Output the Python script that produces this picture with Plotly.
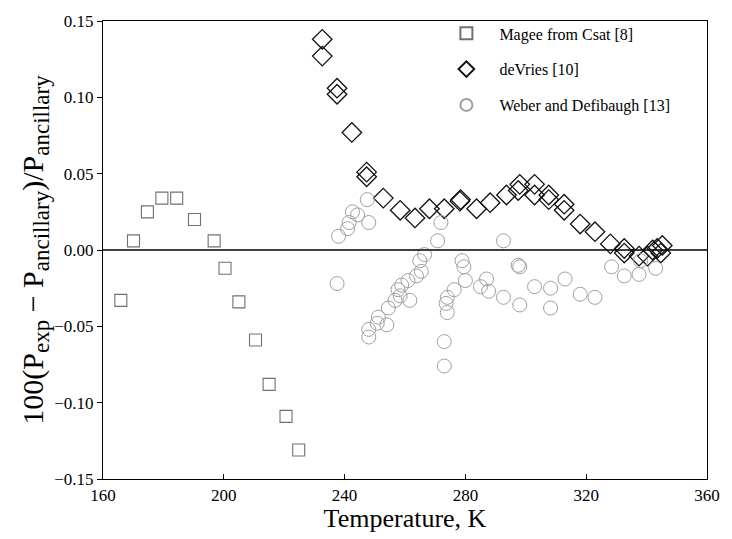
import plotly.graph_objects as go

# Magee from Csat [8]
magee_T = [165.9, 170.1, 174.7, 179.5, 184.4, 190.3, 196.8, 200.4, 205.0, 210.5, 215.0, 220.6, 224.8]
magee_y = [-0.033, 0.006, 0.025, 0.034, 0.034, 0.020, 0.006, -0.012, -0.034, -0.059, -0.088, -0.109, -0.131]

# deVries [10]
devries_T = [232.6, 232.6, 237.5, 237.5, 242.4, 247.3, 247.3, 252.8, 258.4, 263.3, 268.1, 273.0,
             278.2, 278.4, 283.7, 288.2, 293.6, 298.0, 297.5, 302.9, 302.9, 307.6, 307.6, 312.7,
             312.7, 318.0, 322.9, 328.0, 332.6, 332.6, 337.5, 340.3, 342.0, 343.5, 345.2, 344.7]
devries_y = [0.138, 0.127, 0.106, 0.102, 0.077, 0.051, 0.048, 0.034, 0.026, 0.021, 0.027, 0.027,
             0.032, 0.033, 0.027, 0.031, 0.036, 0.043, 0.039, 0.043, 0.036, 0.036, 0.033, 0.030,
             0.026, 0.017, 0.012, 0.004, 0.001, -0.002, -0.004, -0.004, 0.000, 0.001, 0.003, -0.002]

# Weber and Defibaugh [13]
weber_T = [237.5, 238.0, 241.0, 241.5, 242.6, 244.3, 247.5, 248.0, 248.0, 248.0, 250.8, 251.2,
           254.0, 254.5, 256.7, 257.7, 258.4, 258.9, 261.0, 261.6, 263.8, 264.9, 265.4, 266.5,
           270.8, 271.9, 273.0, 273.0, 274.0, 273.6, 274.0, 276.3, 278.9, 279.5, 280.0, 285.0,
           287.0, 287.7, 292.6, 292.6, 297.5, 298.0, 298.0, 302.9, 308.2, 308.2, 313.0, 318.0,
           322.9, 328.4, 332.6, 337.5, 338.0, 343.0]
weber_y = [-0.022, 0.009, 0.014, 0.018, 0.025, 0.023, 0.033, 0.018, -0.052, -0.057, -0.048, -0.044,
           -0.049, -0.038, -0.033, -0.026, -0.030, -0.023, -0.020, -0.033, -0.017, -0.007, -0.014, -0.003,
           0.006, 0.018, -0.060, -0.076, -0.041, -0.035, -0.031, -0.026, -0.007, -0.011, -0.020, -0.024,
           -0.019, -0.027, -0.031, 0.006, -0.010, -0.036, -0.011, -0.024, -0.025, -0.038, -0.019, -0.029,
           -0.031, -0.011, -0.017, -0.016, -0.007, -0.012]

x_ticks = [160, 200, 240, 280, 320, 360]
y_ticks = [-0.15, -0.10, -0.05, 0.00, 0.05, 0.10, 0.15]

serif = "Liberation Serif, Times New Roman, serif"

fig = go.Figure()
fig.add_trace(go.Scatter(
    x=magee_T, y=magee_y, mode="markers", name="Magee from Csat [8]", legendgroup="a",
    marker=dict(symbol="square-open", size=12, color="#707070", line=dict(width=1.1)),
))
fig.add_trace(go.Scatter(
    x=devries_T, y=devries_y, mode="markers", name="deVries [10]", legendgroup="b",
    marker=dict(symbol="diamond-open", size=15, color="#111111", line=dict(width=1.3)),
))
fig.add_trace(go.Scatter(
    x=weber_T, y=weber_y, mode="markers", name="Weber and Defibaugh [13]", legendgroup="c",
    marker=dict(symbol="circle-open", size=14, color="#a0a0a0", line=dict(width=1)),
))

fig.add_shape(type="line", xref="paper", x0=0, x1=1, yref="y", y0=0, y1=0,
              line=dict(color="black", width=1.5))

ytitle = ("100(P<sub><span style=\"font-size:23px\">exp</span></sub> \u2212 "
          "P<sub><span style=\"font-size:23px\">ancillary</span></sub>)/"
          "P<sub><span style=\"font-size:23px\">ancillary</span></sub>")

fig.update_layout(
    width=732, height=539,
    margin=dict(l=103, r=15, t=16, b=57),
    paper_bgcolor="white", plot_bgcolor="white",
    font=dict(family=serif, size=15, color="black"),
    showlegend=True,
    legend=dict(x=0.547, y=1.01, xanchor="left", yanchor="top",
                bgcolor="rgba(0,0,0,0)", borderwidth=0,
                font=dict(family=serif, size=16), itemsizing="constant",
                itemwidth=56, tracegroupgap=12),
    xaxis=dict(range=[160, 360], tickvals=x_ticks, ticktext=[str(v) for v in x_ticks],
               showgrid=False, zeroline=False, showline=True, linecolor="black", linewidth=1.2,
               mirror=True, ticks="inside", ticklen=5, tickcolor="black",
               title=dict(text="Temperature, K", font=dict(family=serif, size=26), standoff=4),
               tickfont=dict(family=serif, size=17)),
    yaxis=dict(range=[-0.15, 0.15], tickvals=y_ticks, tickformat=".2f",
               showgrid=False, zeroline=False, showline=True, linecolor="black", linewidth=1.2,
               mirror=True, ticks="outside", ticklen=5, tickcolor="black",
               title=dict(text=ytitle, font=dict(family=serif, size=30), standoff=0),
               tickfont=dict(family=serif, size=17)),
)

fig.write_html("out.html")
